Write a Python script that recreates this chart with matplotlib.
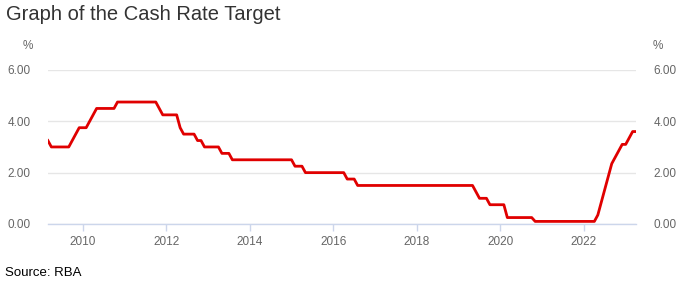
import numpy as np
import matplotlib.pyplot as plt

plt.rcParams['font.family'] = ['Liberation Sans', 'DejaVu Sans']

# Monthly cash rate target (%), month-end values, Mar 2009 - Apr 2023
start_year = 2009
start_month = 3
rates_2009 = [3.25, 3.00, 3.00, 3.00, 3.00, 3.00, 3.00, 3.25, 3.50, 3.75]
rates_2010 = [3.75, 3.75, 4.00, 4.25, 4.50, 4.50, 4.50, 4.50, 4.50, 4.50, 4.75, 4.75]
rates_2011 = [4.75, 4.75, 4.75, 4.75, 4.75, 4.75, 4.75, 4.75, 4.75, 4.75, 4.50, 4.25]
rates_2012 = [4.25, 4.25, 4.25, 4.25, 3.75, 3.50, 3.50, 3.50, 3.50, 3.25, 3.25, 3.00]
rates_2013 = [3.00, 3.00, 3.00, 3.00, 2.75, 2.75, 2.75, 2.50, 2.50, 2.50, 2.50, 2.50]
rates_2014 = [2.50] * 12
rates_2015 = [2.50, 2.25, 2.25, 2.25, 2.00, 2.00, 2.00, 2.00, 2.00, 2.00, 2.00, 2.00]
rates_2016 = [2.00, 2.00, 2.00, 2.00, 1.75, 1.75, 1.75, 1.50, 1.50, 1.50, 1.50, 1.50]
rates_2017 = [1.50] * 12
rates_2018 = [1.50] * 12
rates_2019 = [1.50, 1.50, 1.50, 1.50, 1.50, 1.25, 1.00, 1.00, 1.00, 0.75, 0.75, 0.75]
rates_2020 = [0.75, 0.75, 0.25, 0.25, 0.25, 0.25, 0.25, 0.25, 0.25, 0.25, 0.10, 0.10]
rates_2021 = [0.10] * 12
rates_2022 = [0.10, 0.10, 0.10, 0.10, 0.35, 0.85, 1.35, 1.85, 2.35, 2.60, 2.85, 3.10]
rates_2023 = [3.10, 3.35, 3.60, 3.60]

rates = (rates_2009 + rates_2010 + rates_2011 + rates_2012 + rates_2013 + rates_2014
         + rates_2015 + rates_2016 + rates_2017 + rates_2018 + rates_2019 + rates_2020
         + rates_2021 + rates_2022 + rates_2023)
dates = start_year + (start_month - 1 + np.arange(len(rates))) / 12

year_ticks = [2010, 2012, 2014, 2016, 2018, 2020, 2022]
y_ticks = [0, 2, 4, 6]

fig = plt.figure(figsize=(6.84, 2.89), dpi=100)
ax = fig.add_axes([0.070, 0.225, 0.860, 0.533])

ax.plot(dates, rates, color='#e00000', linewidth=2.0, solid_joinstyle='round')

ax.set_xlim(dates[0], dates[-1])
ax.set_ylim(0, 6)
ax.set_xticks(year_ticks)
ax.set_xticklabels([str(y) for y in year_ticks])
ax.set_yticks(y_ticks)
ax.set_yticklabels(['%.2f' % v for v in y_ticks])

ax.grid(axis='y', color='#e6e6e6', linewidth=1)
ax.set_axisbelow(True)
for s in ['top', 'left', 'right']:
    ax.spines[s].set_visible(False)
ax.spines['bottom'].set_color('#ccd6eb')
ax.spines['bottom'].set_linewidth(1)

ax.tick_params(axis='x', colors='#ccd6eb', length=5, width=1, labelcolor='#666666',
               labelsize=8.5, pad=4)
ax.tick_params(axis='y', length=0, labelcolor='#666666', labelsize=8.5, pad=12.5,
               labelright=True)

fig.text(0.009, 0.95, 'Graph of the Cash Rate Target', fontsize=14.5, color='#333333',
         ha='left', va='center')
fig.text(0.040, 0.84, '%', fontsize=8.5, color='#666666', ha='center', va='center')
fig.text(0.962, 0.84, '%', fontsize=8.5, color='#666666', ha='center', va='center')
fig.text(0.007, 0.055, 'Source: RBA', fontsize=9.5, color='#000000', ha='left', va='center')

fig.savefig('out.png', dpi=100)
